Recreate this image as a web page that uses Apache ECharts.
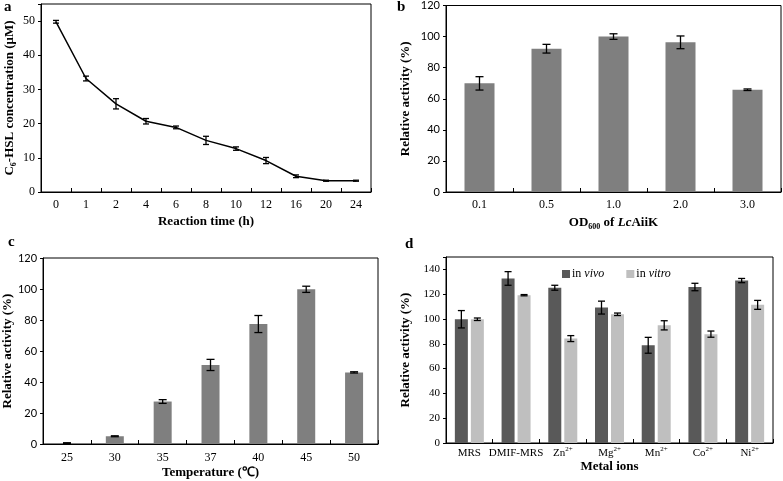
<!DOCTYPE html>
<html><head><meta charset="utf-8">
<script src="https://cdn.jsdelivr.net/npm/echarts@6/dist/echarts.min.js"></script>
<style>html,body{margin:0;padding:0;background:#fff}#c{width:783px;height:481px}</style>
</head><body><div id="c"></div>
<script>
// ---- data ----
var aCats = ['0','1','2','4','6','8','10','12','16','20','24'];
var aVals = [49.8,33.2,25.8,20.7,18.9,15.1,12.7,9.2,4.6,3.3,3.3];
var aErr  = [0.4,0.7,1.5,0.8,0.4,1.2,0.5,0.9,0.4,0.15,0.15];

var bCats = ['0.1','0.5','1.0','2.0','3.0'];
var bVals = [69.9,92.2,100,96.3,65.8];
var bErr  = [4.3,2.8,1.8,4.1,0.5];

var cCats = ['25','30','35','37','40','45','50'];
var cVals = [0.6,5,27.4,51,77.4,99.8,46.2];
var cErr  = [0.2,0.3,1.2,3.6,5.5,2,0.4];

var dCats = ['MRS','DMIF-MRS','Zn2+','Mg2+','Mn2+','Co2+','Ni2+'];
var dVivo = [99.8,132.7,125.2,109.2,78.8,125.8,131];
var dVivoErr = [7,5.5,2,5.2,6.4,3,1.7];
var dVitro = [99.8,119.2,84.2,103.8,94.9,87.8,111.4];
var dVitroErr = [1,0.5,2.4,1,3.7,2.5,3.6];

var aTicks = {min:0, max:55, interval:10};
var pTicks = {min:0, max:120, interval:20};
var dTicks = {min:0, max:150, interval:20};

// ---- helpers ----
var SERIF = '"Liberation Serif","Times New Roman",serif';
var SANS = 'Lato,"Liberation Sans",sans-serif';

function errData(vals, errs){
  return vals.map(function(v,i){ return [i, v-errs[i], v+errs[i]]; });
}
function errSeries(idx, vals, errs, offset, capW){
  return {
    type:'custom', xAxisIndex:idx, yAxisIndex:idx, z:10,
    data: errData(vals, errs),
    renderItem: function(params, api){
      var lo = api.coord([api.value(0), api.value(1)]);
      var hi = api.coord([api.value(0), api.value(2)]);
      var x = lo[0] + offset;
      var st = {stroke:'#000', lineWidth:1.3};
      return {type:'group', children:[
        {type:'line', shape:{x1:x,y1:lo[1],x2:x,y2:hi[1]}, style:st},
        {type:'line', shape:{x1:x-capW/2,y1:lo[1],x2:x+capW/2,y2:lo[1]}, style:st},
        {type:'line', shape:{x1:x-capW/2,y1:hi[1],x2:x+capW/2,y2:hi[1]}, style:st}
      ]};
    }
  };
}
function xAx(idx, cats, margin, name, nameGap, extra){
  var o = {
    type:'category', gridIndex:idx, data:cats, boundaryGap:true,
    axisLine:{show:true, lineStyle:{color:'#000', width:1}},
    axisTick:{show:true, inside:true, length:4, interval:0, lineStyle:{color:'#000'}},
    axisLabel:{interval:0, margin:margin, color:'#000', fontFamily:SERIF, fontSize:12},
    splitLine:{show:false},
    name:name, nameLocation:'middle', nameGap:nameGap,
    nameTextStyle:{color:'#000', fontFamily:SERIF, fontWeight:'bold', fontSize:13}
  };
  if (extra) for (var k in extra) o[k] = extra[k];
  return o;
}
function yAx(idx, t, font, fs, name, nameGap, extra){
  var o = {
    type:'value', gridIndex:idx, min:t.min, max:t.max, interval:t.interval,
    axisLine:{show:true, lineStyle:{color:'#000', width:1}},
    axisTick:{show:true, inside:false, length:3, lineStyle:{color:'#000'}},
    axisLabel:{color:'#000', fontFamily:font, fontSize:fs, margin:6,
      formatter:function(v){ return (v % t.interval === 0) ? String(v) : ''; }},
    splitLine:{show:false},
    name:name, nameLocation:'middle', nameGap:nameGap,
    nameTextStyle:{color:'#000', fontFamily:SERIF, fontWeight:'bold', fontSize:13}
  };
  if (extra) for (var k in extra) o[k] = extra[k];
  return o;
}
function gridBox(o){ o.show = true; o.borderColor = '#000'; o.borderWidth = 1; o.backgroundColor='transparent'; o.containLabel=false; return o; }

var chart = echarts.init(document.getElementById('c'), null, {renderer:'canvas'});

var option = {
  animation:false,
  backgroundColor:'#fff',
  grid:[
    gridBox({left:41, right:412, top:4, bottom:289}),
    gridBox({left:446, right:2, top:4, bottom:289}),
    gridBox({left:41, right:405, top:258, bottom:37}),
    gridBox({left:446, right:10, top:257, bottom:38})
  ],
  legend:{
    left:557, top:263, itemWidth:8, itemHeight:8, itemGap:22, icon:'rect',
    data:['in vivo','in vitro'],
    formatter:function(n){ return n==='in vivo' ? '{n|in }{i|vivo}' : '{n|in }{i|vitro}'; },
    textStyle:{color:'#000', fontFamily:SERIF, fontSize:12, padding:[0,0,0,-3],
      rich:{n:{fontFamily:SERIF, fontSize:12, color:'#000'}, i:{fontFamily:SERIF, fontSize:12, fontStyle:'italic', color:'#000'}}}
  },
  xAxis:[
    xAx(0, aCats, 7, 'Reaction time (h)', 23),
    xAx(1, bCats, 7, '{b|OD}{s|600}{b| of }{bi|Lc}{b|AiiK}', 23, {
      nameTextStyle:{color:'#000', fontFamily:SERIF, fontWeight:'bold', fontSize:13,
        rich:{
          b:{fontFamily:SERIF, fontWeight:'bold', fontSize:13, color:'#000', lineHeight:16},
          bi:{fontFamily:SERIF, fontWeight:'bold', fontStyle:'italic', fontSize:13, color:'#000', lineHeight:16},
          s:{fontFamily:SERIF, fontWeight:'bold', fontSize:8, color:'#000', lineHeight:9, verticalAlign:'bottom'}
        }}
    }),
    xAx(2, cCats, 8, 'Temperature (\u2103)', 22),
    xAx(3, dCats, 3, 'Metal ions', 17, {
      axisLabel:{interval:0, margin:3, color:'#000', fontFamily:SERIF, fontSize:11,
        formatter:function(v){
          var m = v.match(/^([A-Za-z]+)(\d\+)$/);
          return m ? '{m|'+m[1]+'}{s|'+m[2]+'}' : '{m|'+v+'}';
        },
        rich:{
          m:{fontFamily:SERIF, fontSize:11, color:'#000', lineHeight:14},
          s:{fontFamily:SERIF, fontSize:7, color:'#000', lineHeight:8, verticalAlign:'top'}
        }}
    })
  ],
  yAxis:[
    yAx(0, aTicks, SERIF, 12, '{b|C}{s|6}{b|-HSL concentration (\u03bcM)}', 23, {
      nameTextStyle:{color:'#000', fontFamily:SERIF, fontWeight:'bold', fontSize:13,
        rich:{
          b:{fontFamily:SERIF, fontWeight:'bold', fontSize:13, color:'#000', lineHeight:16},
          s:{fontFamily:SERIF, fontWeight:'bold', fontSize:8, color:'#000', lineHeight:9, verticalAlign:'bottom'}
        }}
    }),
    yAx(1, pTicks, SANS, 11, 'Relative activity (%)', 34),
    yAx(2, pTicks, SANS, 11, 'Relative activity (%)', 29),
    yAx(3, dTicks, SERIF, 11, 'Relative activity (%)', 34)
  ],
  series:[
    {type:'line', xAxisIndex:0, yAxisIndex:0, data:aVals, symbol:'none',
      lineStyle:{color:'#000', width:1.5}},
    errSeries(0, aVals, aErr, 0, 6),
    {type:'bar', xAxisIndex:1, yAxisIndex:1, data:bVals, barWidth:30,
      itemStyle:{color:'#7f7f7f'}},
    errSeries(1, bVals, bErr, 0, 8),
    {type:'bar', xAxisIndex:2, yAxisIndex:2, data:cVals, barWidth:18,
      itemStyle:{color:'#7f7f7f'}},
    errSeries(2, cVals, cErr, 0, 8),
    {type:'bar', name:'in vivo', xAxisIndex:3, yAxisIndex:3, data:dVivo, barWidth:13, barGap:'23%',
      itemStyle:{color:'#595959'}},
    {type:'bar', name:'in vitro', xAxisIndex:3, yAxisIndex:3, data:dVitro, barWidth:13, barGap:'23%',
      itemStyle:{color:'#bfbfbf'}},
    errSeries(3, dVivo, dVivoErr, -8, 7),
    errSeries(3, dVitro, dVitroErr, 8, 7)
  ],
  graphic:[
    {type:'text', left:4, top:0, style:{text:'a', fill:'#000', font:'bold 15px '+SERIF}},
    {type:'text', left:397, top:0, style:{text:'b', fill:'#000', font:'bold 15px '+SERIF}},
    {type:'text', left:8, top:235, style:{text:'c', fill:'#000', font:'bold 15px '+SERIF}},
    {type:'text', left:405, top:237, style:{text:'d', fill:'#000', font:'bold 15px '+SERIF}}
  ]
};
chart.setOption(option);
</script>
</body></html>
